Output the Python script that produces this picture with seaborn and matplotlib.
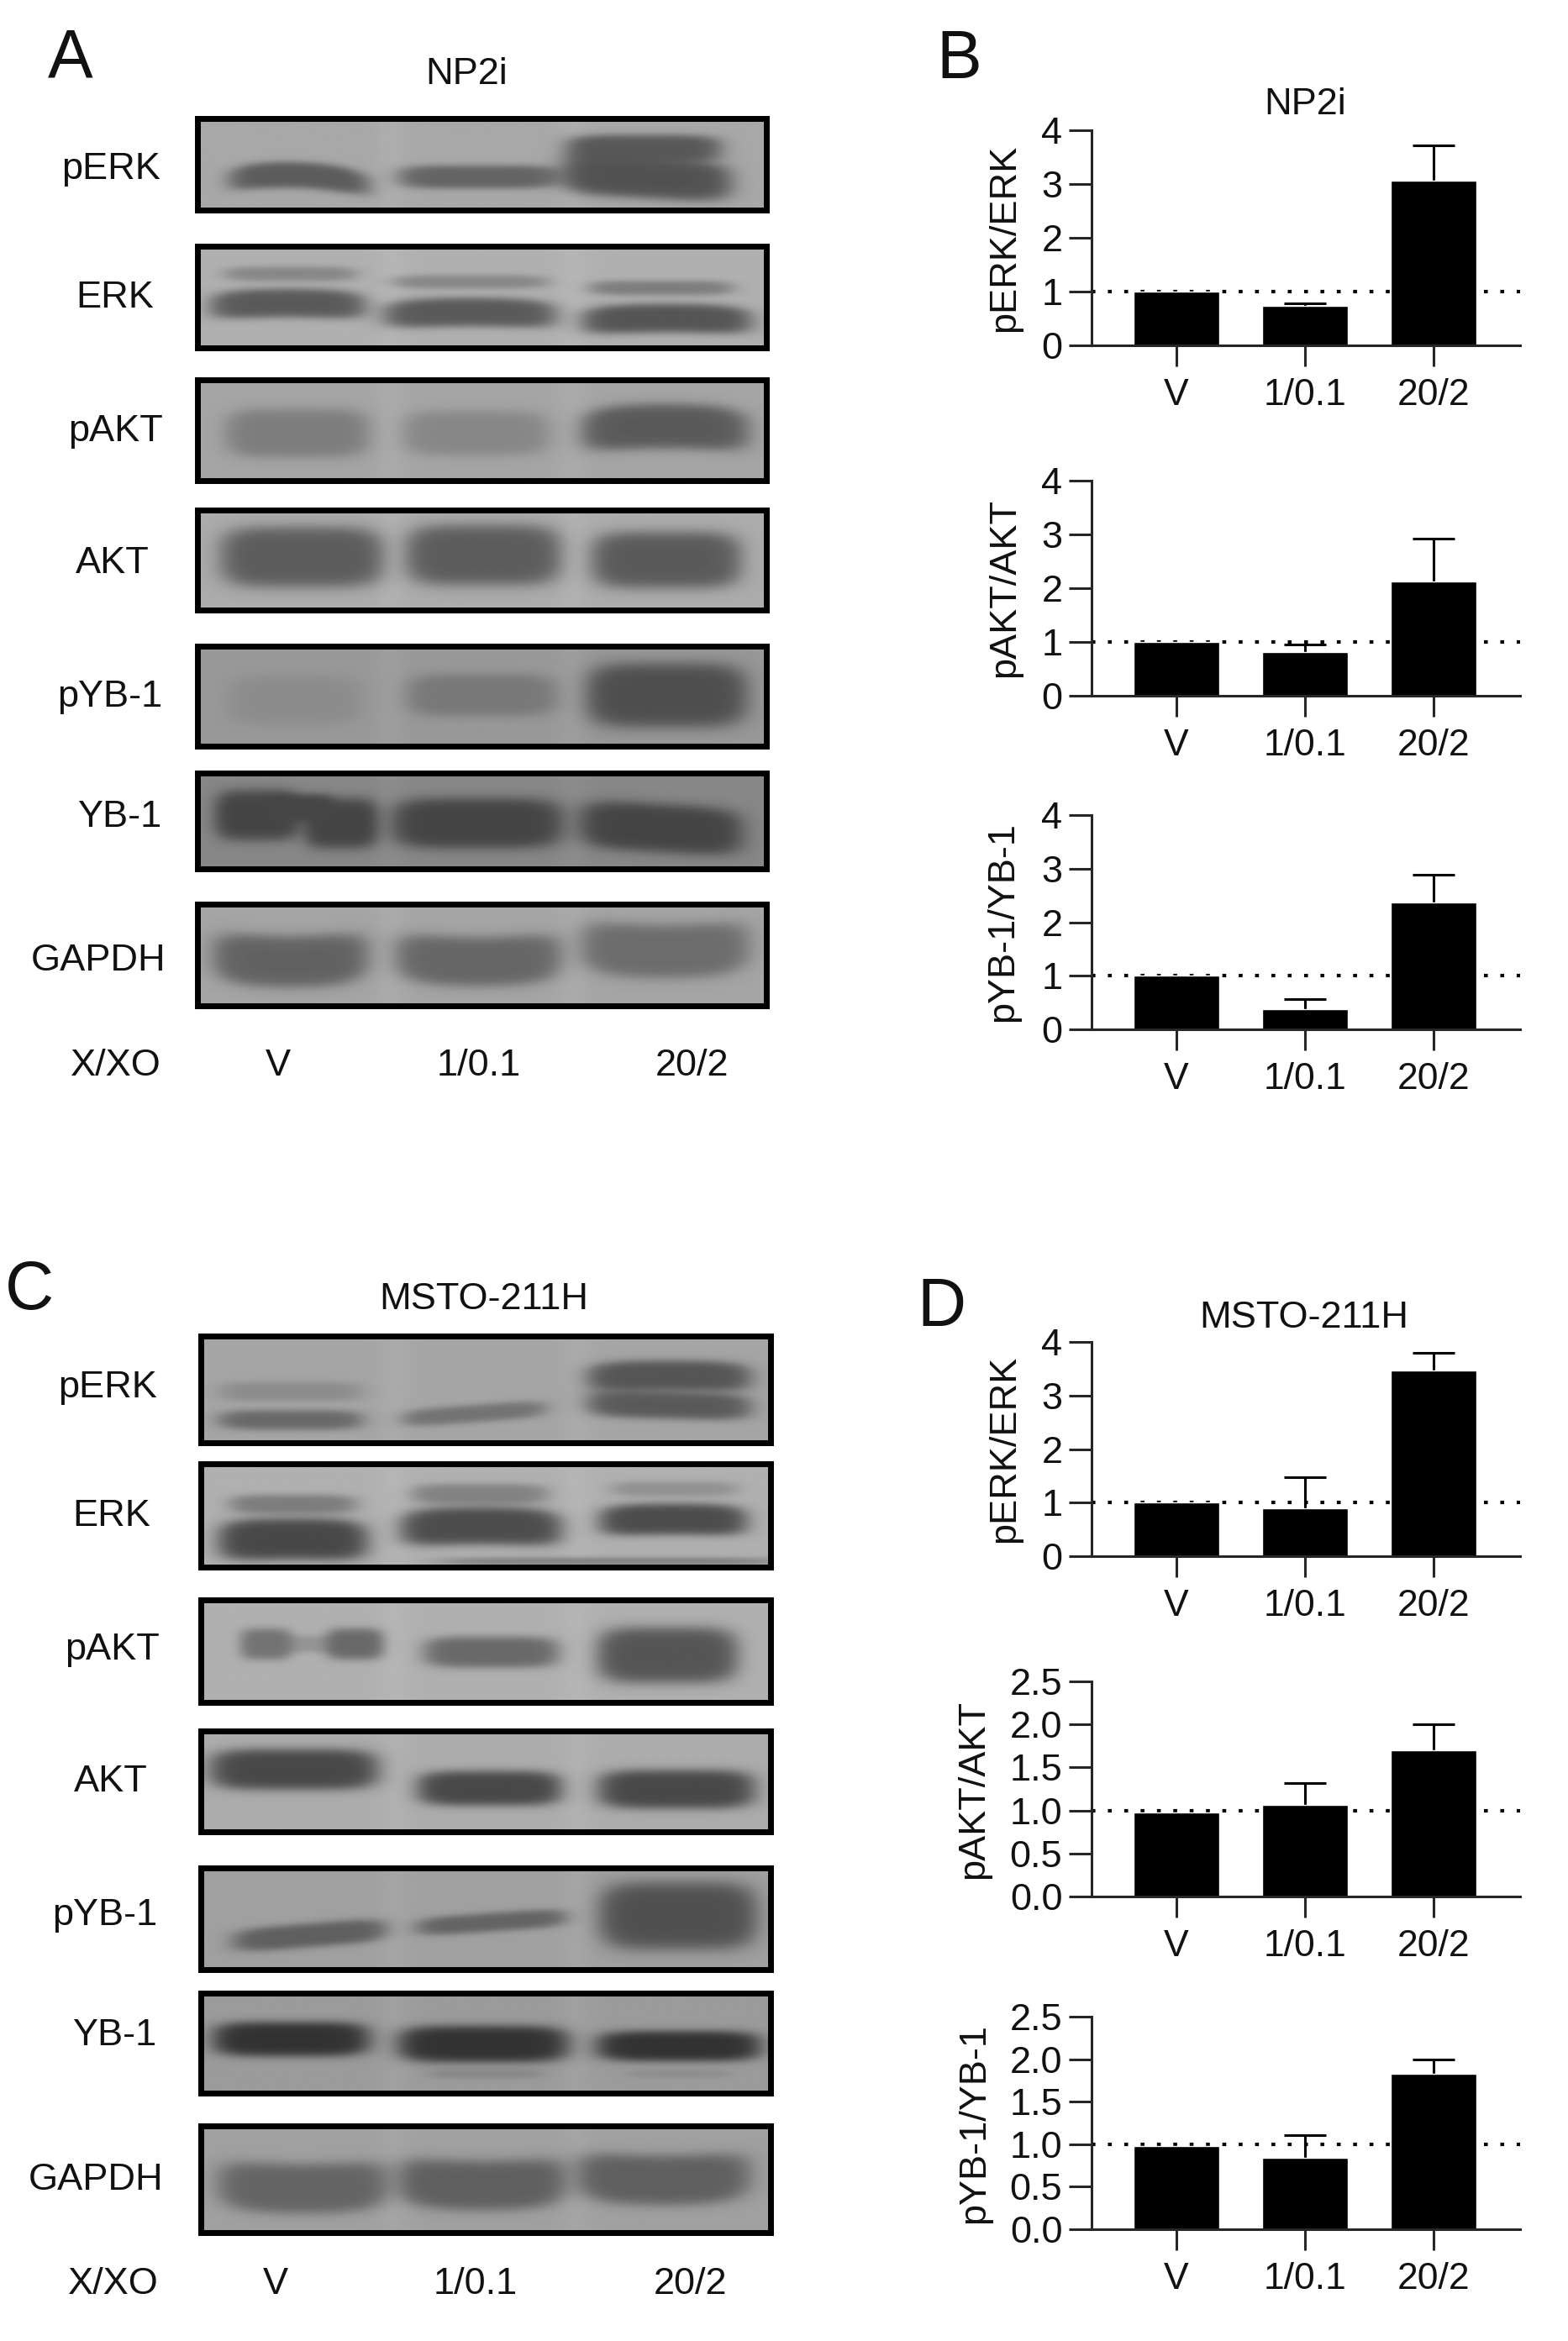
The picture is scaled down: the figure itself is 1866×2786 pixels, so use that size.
import matplotlib
matplotlib.use('Agg')
import matplotlib.pyplot as plt
import numpy as np
import seaborn as sns

# Bar chart values (mean, top of the error bar)
doses = ['V', '1/0.1', '20/2']

np2i_perk = [1.0, 0.74, 3.06]
np2i_perk_top = [1.0, 0.78, 3.72]
np2i_pakt = [1.0, 0.81, 2.13]
np2i_pakt_top = [1.0, 0.96, 2.92]
np2i_pyb1 = [1.0, 0.38, 2.37]
np2i_pyb1_top = [1.0, 0.56, 2.88]

msto_perk = [1.0, 0.89, 3.46]
msto_perk_top = [1.0, 1.48, 3.79]
msto_pakt = [0.98, 1.06, 1.70]
msto_pakt_top = [0.98, 1.32, 2.0]
msto_pyb1 = [0.98, 0.84, 1.83]
msto_pyb1_top = [0.98, 1.11, 2.0]

ticks_4 = [0, 1, 2, 3, 4]
ticks_25 = [0.0, 0.5, 1.0, 1.5, 2.0, 2.5]

# Blot bands: x centre, half width, y centre, half height, grey level, tilt, curve
np2i_blots = {
    'pERK': (168, [(.178, .122, .62, .14, 92, .03, .08), (.495, .14, .64, .125, 100, 0, 0),
                   (.785, .135, .33, .15, 88, 0, 0), (.79, .148, .65, .22, 82, .05, 0)]),
    'ERK': (176, [(.163, .115, .27, .07, 135, 0, 0), (.158, .135, .56, .14, 90, 0, .03),
                  (.48, .135, .35, .065, 135, 0, 0), (.479, .15, .65, .14, 90, 0, .03),
                  (.816, .125, .41, .07, 125, 0, 0), (.826, .148, .71, .14, 85, 0, .03)]),
    'pAKT': (165, [(.175, .125, .53, .24, 125, 0, 0), (.49, .127, .53, .22, 135, 0, 0),
                   (.823, .145, .46, .22, 90, 0, .05)]),
    'AKT': (172, [(.183, .142, .47, .30, 92, 0, 0), (.503, .135, .45, .30, 92, 0, 0),
                  (.825, .13, .50, .28, 90, 0, 0)]),
    'pYB-1': (152, [(.17, .115, .54, .24, 140, 0, 0), (.5, .13, .49, .21, 120, 0, 0),
                    (.826, .14, .49, .32, 78, 0, 0)]),
    'YB-1': (135, [(.105, .075, .44, .26, 68, 0, 0), (.252, .065, .525, .26, 68, 0, 0),
                   (.18, .06, .36, .14, 70, 0, 0),
                   (.492, .15, .525, .26, 68, 0, 0), (.816, .142, .576, .25, 68, .05, 0)]),
    'GAPDH': (165, [(.163, .135, .57, .25, 98, 0, -.06), (.494, .144, .57, .24, 102, 0, -.06),
                    (.823, .146, .47, .26, 108, 0, -.06)]),
}
msto_blots = {
    'pERK': (165, [(.157, .125, .52, .09, 140, 0, 0), (.157, .125, .79, .09, 105, 0, 0),
                   (.479, .125, .73, .08, 115, -.05, 0), (.823, .142, .37, .14, 85, 0, .02),
                   (.823, .142, .65, .125, 90, .02, 0)]),
    'ERK': (176, [(.161, .11, .39, .09, 125, 0, 0), (.161, .13, .73, .20, 72, 0, .02),
                  (.49, .118, .29, .095, 130, 0, 0), (.492, .14, .60, .18, 76, 0, .03),
                  (.832, .11, .24, .07, 145, 0, 0), (.83, .128, .536, .15, 76, 0, .02),
                  (.72, .3, .95, .035, 125, 0, 0)]),
    'pAKT': (176, [(.19, .07, .43, .08, 148, 0, 0), (.114, .045, .43, .15, 115, 0, 0),
                   (.27, .05, .43, .15, 105, 0, 0), (.51, .117, .51, .15, 105, 0, 0),
                   (.82, .122, .54, .27, 85, 0, 0)]),
    'AKT': (172, [(.163, .146, .38, .20, 72, 0, 0), (.507, .125, .57, .17, 72, 0, 0),
                  (.836, .136, .58, .19, 72, 0, 0)]),
    'pYB-1': (160, [(.19, .133, .665, .115, 95, -.06, 0), (.51, .13, .535, .09, 100, -.05, 0),
                    (.839, .137, .47, .33, 80, 0, 0)]),
    'YB-1': (155, [(.158, .136, .46, .17, 50, 0, 0), (.496, .148, .51, .18, 50, 0, 0),
                   (.84, .143, .53, .15, 50, 0, 0), (.5, .1, .81, .045, 135, 0, 0),
                   (.84, .09, .81, .035, 140, 0, 0)]),
    'GAPDH': (160, [(.179, .148, .59, .23, 100, 0, -.05), (.494, .146, .56, .23, 95, 0, -.05),
                    (.813, .15, .51, .23, 95, 0, -.05)]),
}

# Layout in pixels of the final image
W, H = 1866, 2786
np2i_frames = {'pERK': (138, 253), 'ERK': (290, 417), 'pAKT': (449, 575), 'AKT': (604, 729),
               'pYB-1': (766, 891), 'YB-1': (917, 1037), 'GAPDH': (1073, 1200)}
msto_frames = {'pERK': (1587, 1720), 'ERK': (1739, 1868), 'pAKT': (1901, 2029), 'AKT': (2057, 2183),
               'pYB-1': (2220, 2347), 'YB-1': (2369, 2494), 'GAPDH': (2527, 2660)}
np2i_names = {'pERK': (191, 202), 'ERK': (183, 355), 'pAKT': (194, 514), 'AKT': (178, 671),
              'pYB-1': (193, 830), 'YB-1': (192, 972), 'GAPDH': (197, 1144), 'X/XO': (192, 1268)}
msto_names = {'pERK': (187, 1651), 'ERK': (179, 1805), 'pAKT': (190, 1964), 'AKT': (176, 2121),
              'pYB-1': (187, 2279), 'YB-1': (186, 2422), 'GAPDH': (194, 2594), 'X/XO': (189, 2719)}

sns.set_theme(style='ticks')
plt.rcParams['font.family'] = ['Liberation Sans', 'DejaVu Sans']
plt.rcParams['axes.unicode_minus'] = False
FONT = 32.5


def add_axes_px(fig, left, top, right, bottom):
    """
    Adds an axes given in image pixels
    :return: The new axes
    """
    return fig.add_axes([left / W, 1 - bottom / H, (right - left) / W, (bottom - top) / H])


def put_text(fig, x, y, text, ha='center', size=FONT):
    """
    Writes text at an image pixel position
    :return: None
    """
    fig.text(x / W, 1 - y / H, text, ha=ha, va='center', fontsize=size, color='#111111')


def blur(img, sigma, axis):
    """
    Gaussian blur along one axis, edges repeated
    :return: Blurred image
    """
    r = int(3 * sigma)
    kernel = np.exp(-0.5 * (np.arange(-r, r + 1) / sigma) ** 2)
    kernel /= kernel.sum()
    return np.apply_along_axis(
        lambda line: np.convolve(np.pad(line, r, mode='edge'), kernel, mode='valid'), axis, img)


def draw_blot(ax, background, bands):
    """
    Draws one blot strip from soft edged bands
    :param ax: Axes of the strip
    :param background: Grey level of the membrane
    :param bands: List of band tuples
    :return: None
    """
    xx, yy = np.meshgrid(np.linspace(0, 1, 420), np.linspace(0, 1, 100))
    img = np.full(xx.shape, float(background))

    # The gaps between lanes are a little lighter
    for gap in (.34, .66):
        img += 6 * np.exp(-((xx - gap) / .025) ** 2)

    for xc, hw, yc, ht, grey, tilt, curve in bands:
        u = (xx - xc) / hw
        v = (yy - (yc + tilt * u + curve * u ** 2)) / ht
        d = (np.abs(u) ** 5 + np.abs(v) ** 3) ** (1 / 3)
        mask = 1 / (1 + np.exp((d - 1) / .12))
        img = img * (1 - mask) + grey * mask

    img = blur(blur(img, 4, 1), 2.2, 0)

    ax.imshow(img, cmap='gray', vmin=0, vmax=255, aspect='auto', extent=(0, 1, 1, 0),
              interpolation='bilinear')
    ax.set_xticks([])
    ax.set_yticks([])
    for spine in ax.spines.values():
        spine.set_linewidth(5)
        spine.set_color('black')


def draw_blot_panel(fig, left, right, frames, blots, names):
    """
    Draws all the blot strips of a panel and their labels
    :return: None
    """
    for name, (top, bottom) in frames.items():
        ax = add_axes_px(fig, left + 3, top + 3, right - 3, bottom - 3)
        background, bands = blots[name]
        draw_blot(ax, background, bands)

    for name, (x, y) in names.items():
        put_text(fig, x, y, name, ha='right')


def draw_bars(fig, top, bottom, values, tops, ticks, ymax, label, label_x):
    """
    Plots one bar chart with upper error bars and a dotted line at 1
    :return: None
    """
    ax = add_axes_px(fig, 1299, top, 1809, bottom)
    sns.barplot(x=doses, y=values, color='black', saturation=1, width=0.667, errorbar=None,
                ax=ax, zorder=2)

    values = np.array(values)
    tops = np.array(tops)
    keep = tops > values
    _, caps, _ = ax.errorbar(np.arange(3)[keep], values[keep],
                             yerr=[np.zeros(keep.sum()), (tops - values)[keep]],
                             fmt='none', ecolor='black', elinewidth=2.2, capsize=18, capthick=2.2,
                             zorder=1.5)
    caps[0].set_visible(False)
    ax.axhline(1, color='black', linewidth=3, linestyle=(0, (1.1, 3.57)), zorder=1)

    ax.set_xlim(-0.66, 2.673)
    ax.set_ylim(0, ymax)
    ax.set_yticks(ticks)
    ax.set_yticklabels([str(t) for t in ticks])
    ax.tick_params(axis='y', length=19.5, width=2.2, labelsize=FONT, pad=5.5, labelcolor='#111111')
    ax.tick_params(axis='x', length=18, width=2.2, labelsize=32, pad=10, labelcolor='#111111')
    sns.despine(ax=ax)
    ax.spines['left'].set_linewidth(2.2)
    ax.spines['bottom'].set_linewidth(2.2)
    ax.patch.set_alpha(0)

    ax.set_ylabel(label, fontsize=FONT, va='center', color='#111111')
    ax.yaxis.set_label_coords((label_x - 1299) / 510, 0.5)


fig = plt.figure(figsize=(W / 100, H / 100), dpi=100, facecolor='white')

# Panels A and C
draw_blot_panel(fig, 232, 915, np2i_frames, np2i_blots, np2i_names)
draw_blot_panel(fig, 236, 920, msto_frames, msto_blots, msto_names)

for x, text in zip((331, 570, 824), doses):
    put_text(fig, x, 1268, text)
for x, text in zip((328, 566, 821), doses):
    put_text(fig, x, 2719, text)

put_text(fig, 555, 88, 'NP2i')
put_text(fig, 576, 1547, 'MSTO-211H')

# Panels B and D
draw_bars(fig, 155, 411, np2i_perk, np2i_perk_top, ticks_4, 4, 'pERK/ERK', 1196)
draw_bars(fig, 572, 828, np2i_pakt, np2i_pakt_top, ticks_4, 4, 'pAKT/AKT', 1196)
draw_bars(fig, 970, 1225, np2i_pyb1, np2i_pyb1_top, ticks_4, 4, 'pYB-1/YB-1', 1194)
draw_bars(fig, 1597, 1852, msto_perk, msto_perk_top, ticks_4, 4, 'pERK/ERK', 1196)
draw_bars(fig, 2001, 2257, msto_pakt, msto_pakt_top, ticks_25, 2.5, 'pAKT/AKT', 1159)
draw_bars(fig, 2400, 2653, msto_pyb1, msto_pyb1_top, ticks_25, 2.5, 'pYB-1/YB-1', 1160)

put_text(fig, 1553, 124, 'NP2i')
put_text(fig, 1552, 1568, 'MSTO-211H')

# Panel letters
put_text(fig, 84, 71, 'A', size=58)
put_text(fig, 1141, 72, 'B', size=58)
put_text(fig, 35, 1537, 'C', size=58)
put_text(fig, 1120, 1557, 'D', size=58)

plt.savefig('out.png', dpi=100, facecolor='white')
